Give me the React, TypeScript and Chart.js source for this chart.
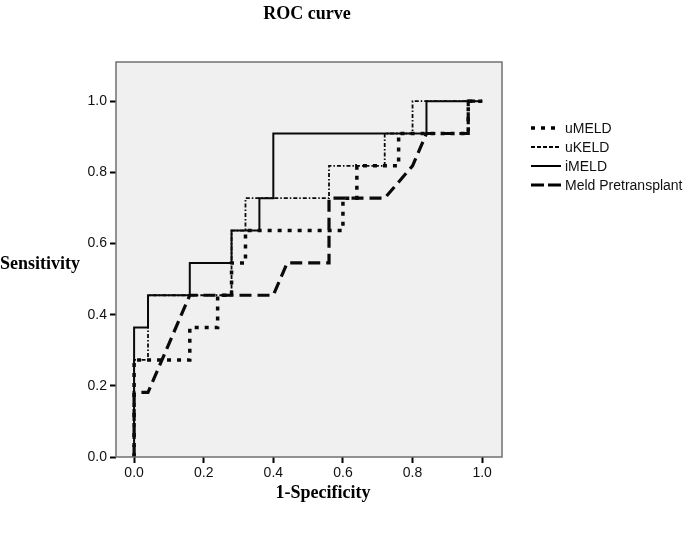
import React, { useEffect, useRef } from "react";
import { Chart, registerables } from "chart.js";

Chart.register(...registerables);

const seriesNames = ["uMELD", "uKELD", "iMELD", "Meld Pretransplant"];
const tickValues = [0, 0.2, 0.4, 0.6, 0.8, 1.0];

// 1-Specificity (x) and Sensitivity in elevenths (y) at each vertex of the curves
const uMeldX = [0, 0, 0.16, 0.16, 0.24, 0.24, 0.28, 0.28, 0.32, 0.32, 0.6, 0.6, 0.64, 0.64, 0.76, 0.76, 0.96, 0.96, 1.0];
const uMeldY = [0, 3, 3, 4, 4, 5, 5, 6, 6, 7, 7, 8, 8, 9, 9, 10, 10, 11, 11];

const uKeldX = [0, 0, 0.04, 0.04, 0.28, 0.28, 0.32, 0.32, 0.56, 0.56, 0.72, 0.72, 0.8, 0.8, 1.0];
const uKeldY = [0, 3, 3, 5, 5, 7, 7, 8, 8, 9, 9, 10, 10, 11, 11];

const iMeldX = [0, 0, 0.04, 0.04, 0.16, 0.16, 0.28, 0.28, 0.36, 0.36, 0.4, 0.4, 0.84, 0.84, 1.0];
const iMeldY = [0, 4, 4, 5, 5, 6, 6, 7, 7, 8, 8, 10, 10, 11, 11];

const preX = [0, 0, 0.04, 0.16, 0.4, 0.44, 0.56, 0.56, 0.72, 0.8, 0.84, 0.96, 0.96, 1.0];
const preY = [0, 2, 2, 5, 5, 6, 6, 8, 8, 9, 10, 10, 11, 11];

const positives = 11;

const toPoints = (xs: number[], ys: number[]) =>
  xs.map((x, i) => ({ x, y: ys[i] / positives }));

const styles = [
  { width: 3.5, dash: [4, 6], legendDash: [4, 6] },
  { width: 1.8, dash: [4, 2, 1.5, 2], legendDash: [4, 2] },
  { width: 2, dash: [] as number[], legendDash: [] as number[] },
  { width: 3.2, dash: [12, 6], legendDash: [13, 4] },
];

const TICK_FONT = "Arial, 'Liberation Sans', sans-serif";
const TITLE_FONT = "'Times New Roman', 'Liberation Serif', serif";

const decorPlugin = {
  id: "decor",
  beforeDatasetsDraw(chart: any) {
    const { ctx, chartArea: a } = chart;
    ctx.save();
    ctx.fillStyle = "#f0f0f0";
    ctx.fillRect(a.left, a.top, a.right - a.left, a.bottom - a.top);
    ctx.restore();
  },
  afterDraw(chart: any) {
    const { ctx, chartArea: a } = chart;
    ctx.save();
    ctx.strokeStyle = "#707070";
    ctx.lineWidth = 1.5;
    ctx.setLineDash([]);
    ctx.strokeRect(a.left, a.top, a.right - a.left, a.bottom - a.top);

    ctx.fillStyle = "#000";
    ctx.font = `bold 18px ${TITLE_FONT}`;
    ctx.textBaseline = "middle";
    ctx.textAlign = "center";
    ctx.fillText("ROC curve", 307, 14);
    ctx.fillText("1-Specificity", 323, 493);
    ctx.textAlign = "left";
    ctx.fillText("Sensitivity", 0, 264);

    // legend
    ctx.font = `14px ${TICK_FONT}`;
    const ys = [128, 147, 166, 185];
    seriesNames.forEach((name, i) => {
      const y = ys[i];
      ctx.strokeStyle = "#000";
      ctx.lineWidth = styles[i].width;
      ctx.setLineDash(styles[i].legendDash);
      ctx.beginPath();
      ctx.moveTo(531, y);
      ctx.lineTo(561, y);
      ctx.stroke();
      ctx.setLineDash([]);
      ctx.fillStyle = "#111";
      ctx.textAlign = "left";
      ctx.fillText(name, 565, y + 1);
    });
    ctx.restore();
  },
};

export default function App() {
  const ref = useRef<HTMLCanvasElement>(null);

  useEffect(() => {
    if (!ref.current) return;
    const data = [
      toPoints(uMeldX, uMeldY),
      toPoints(uKeldX, uKeldY),
      toPoints(iMeldX, iMeldY),
      toPoints(preX, preY),
    ];
    const chart = new Chart(ref.current, {
      type: "scatter",
      data: {
        datasets: seriesNames.map((name, i) => ({
          label: name,
          data: data[i],
          showLine: true,
          borderColor: "#0a0a0a",
          backgroundColor: "#0a0a0a",
          borderWidth: styles[i].width,
          borderDash: styles[i].dash,
          pointRadius: 0,
          tension: 0,
          fill: false,
        })),
      },
      plugins: [decorPlugin],
      options: {
        animation: false,
        responsive: false,
        maintainAspectRatio: false,
        layout: { padding: { left: 0, right: 189, top: 62, bottom: 0 } },
        plugins: {
          legend: { display: false },
          tooltip: { enabled: false },
          title: { display: false },
        },
        scales: {
          x: {
            type: "linear",
            min: -0.052,
            max: 1.057,
            afterBuildTicks: (s: any) => {
              s.ticks = tickValues.map((v) => ({ value: v }));
            },
            afterFit: (s: any) => {
              s.height = 76;
            },
            grid: {
              drawOnChartArea: false,
              drawTicks: true,
              tickLength: 6,
              tickColor: "#000",
              tickWidth: 2,
            },
            border: { display: false },
            ticks: {
              padding: 2,
              color: "#111",
              font: { family: TICK_FONT, size: 14 },
              maxRotation: 0,
              callback: (v: any) => Number(v).toFixed(1),
            },
          },
          y: {
            type: "linear",
            min: 0,
            max: 1.11,
            afterBuildTicks: (s: any) => {
              s.ticks = tickValues.map((v) => ({ value: v }));
            },
            afterFit: (s: any) => {
              s.width = 116;
            },
            grid: {
              drawOnChartArea: false,
              drawTicks: true,
              tickLength: 6,
              tickColor: "#000",
              tickWidth: 2,
            },
            border: { display: false },
            ticks: {
              padding: 3,
              color: "#111",
              font: { family: TICK_FONT, size: 14 },
              callback: (v: any) => Number(v).toFixed(1),
            },
          },
        },
      },
    });
    return () => chart.destroy();
  }, []);

  return (
    <div style={{ position: "absolute", left: 0, top: 0, width: 691, height: 533, background: "#fff" }}>
      <canvas ref={ref} width={691} height={533} style={{ display: "block", width: 691, height: 533 }} />
    </div>
  );
}
